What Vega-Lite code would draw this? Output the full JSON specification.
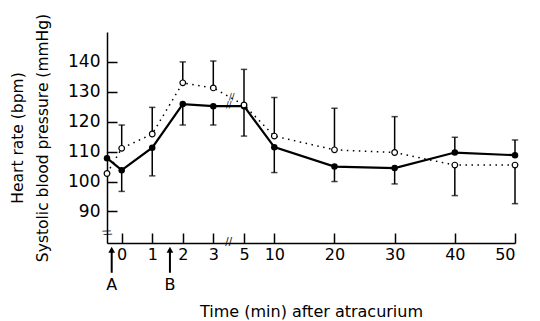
{
  "$schema": "https://vega.github.io/schema/vega-lite/v6.json",
  "width": 408,
  "height": 211,
  "autosize": {"type": "none"},
  "padding": {"left": 107, "top": 32, "right": 25, "bottom": 78},
  "background": "white",
  "config": {
    "view": {"stroke": null},
    "font": "DejaVu Sans",
    "axis": {"grid": false, "domainColor": "black", "tickColor": "black", "labelColor": "black", "titleColor": "black", "domainWidth": 1.5, "tickWidth": 1.5, "titleFontWeight": "normal"}
  },
  "datasets": {
    "measurements": [
      {"series": "HR", "time": -0.5, "value": 107.8, "bound": null},
      {"series": "HR", "time": 0, "value": 103.8, "bound": 96.7},
      {"series": "HR", "time": 1, "value": 111.3, "bound": 101.9},
      {"series": "HR", "time": 2, "value": 125.9, "bound": 118.9},
      {"series": "HR", "time": 3, "value": 125.2, "bound": 118.9},
      {"series": "HR", "time": 5, "value": 125.2, "bound": 115.2},
      {"series": "HR", "time": 10, "value": 111.5, "bound": 103.0},
      {"series": "HR", "time": 20, "value": 105.0, "bound": 100.0},
      {"series": "HR", "time": 30, "value": 104.5, "bound": 99.2},
      {"series": "HR", "time": 40, "value": 109.7, "bound": 114.8},
      {"series": "HR", "time": 50, "value": 108.8, "bound": 113.9},
      {"series": "SBP", "time": -0.5, "value": 102.7, "bound": null},
      {"series": "SBP", "time": 0, "value": 111.1, "bound": 118.9},
      {"series": "SBP", "time": 1, "value": 115.9, "bound": 124.8},
      {"series": "SBP", "time": 2, "value": 133.0, "bound": 140.0},
      {"series": "SBP", "time": 3, "value": 131.3, "bound": 140.3},
      {"series": "SBP", "time": 5, "value": 125.6, "bound": 137.5},
      {"series": "SBP", "time": 10, "value": 115.2, "bound": 128.1},
      {"series": "SBP", "time": 20, "value": 110.6, "bound": 124.5},
      {"series": "SBP", "time": 30, "value": 109.7, "bound": 121.7},
      {"series": "SBP", "time": 40, "value": 105.5, "bound": 95.3},
      {"series": "SBP", "time": 50, "value": 105.5, "bound": 92.6}
    ],
    "events": [
      {"event": "A", "time": -0.34},
      {"event": "B", "time": 1.58}
    ],
    "breaks": [
      {"time": 4, "value": 125.2},
      {"time": 4.2, "value": 127.9}
    ]
  },
  "layer": [
    {
      "data": {"name": "measurements"},
      "transform": [{"filter": "datum.bound != null"}],
      "mark": {"type": "rule", "color": "black", "strokeWidth": 1.5},
      "encoding": {
        "x": {
          "field": "time", "type": "quantitative",
          "scale": {"type": "linear", "domain": [-0.5, 0, 3, 5, 10, 50], "range": [0, 14.7, 106.3, 137, 167.3, 408], "nice": false, "zero": false},
          "axis": {
            "values": [0, 1, 2, 3, 5, 10, 20, 30, 40, 50],
            "tickSize": -10, "labelPadding": 13, "labelFontSize": 16,
            "title": "Time (min) after atracurium", "titleFontSize": 16,
            "titleY": 68, "titleBaseline": "middle"
          }
        },
        "y": {
          "field": "value", "type": "quantitative",
          "scale": {"domain": [79.45, 150], "nice": false, "zero": false},
          "axis": {
            "values": [90, 100, 110, 120, 130, 140],
            "tickSize": -10, "labelPadding": 17, "labelFontSize": 17,
            "title": ["Heart rate (bpm)", "Systolic blood pressure (mmHg)"],
            "titleFontSize": 15.5, "titleLineHeight": 25,
            "titleX": -82, "titleY": 105.5, "titleAngle": -90, "titleBaseline": "bottom", "titleAlign": "center"
          }
        },
        "y2": {"field": "bound"}
      }
    },
    {
      "data": {"name": "measurements"},
      "transform": [{"filter": "datum.bound != null"}],
      "mark": {"type": "point", "shape": "stroke", "color": "black", "strokeWidth": 1.5, "size": 40, "filled": false},
      "encoding": {
        "x": {"field": "time", "type": "quantitative"},
        "y": {"field": "bound", "type": "quantitative"}
      }
    },
    {
      "data": {"name": "measurements"},
      "transform": [{"filter": "datum.series == 'HR'"}],
      "mark": {"type": "line", "color": "black", "strokeWidth": 2.2},
      "encoding": {
        "x": {"field": "time", "type": "quantitative"},
        "y": {"field": "value", "type": "quantitative"}
      }
    },
    {
      "data": {"name": "measurements"},
      "transform": [{"filter": "datum.series == 'SBP'"}],
      "mark": {"type": "line", "color": "black", "strokeWidth": 1.5, "strokeDash": [1.5, 4.5]},
      "encoding": {
        "x": {"field": "time", "type": "quantitative"},
        "y": {"field": "value", "type": "quantitative"}
      }
    },
    {
      "data": {"name": "measurements"},
      "transform": [{"filter": "datum.series == 'HR'"}],
      "mark": {"type": "point", "filled": true, "color": "black", "size": 42, "opacity": 1},
      "encoding": {
        "x": {"field": "time", "type": "quantitative"},
        "y": {"field": "value", "type": "quantitative"}
      }
    },
    {
      "data": {"name": "measurements"},
      "transform": [{"filter": "datum.series == 'SBP'"}],
      "mark": {"type": "point", "filled": false, "fill": "white", "stroke": "black", "strokeWidth": 1.2, "size": 32, "opacity": 1, "fillOpacity": 1},
      "encoding": {
        "x": {"field": "time", "type": "quantitative"},
        "y": {"field": "value", "type": "quantitative"}
      }
    },
    {
      "data": {"name": "breaks"},
      "mark": {"type": "text", "text": "//", "color": "black", "fontSize": 8, "baseline": "middle", "align": "center"},
      "encoding": {
        "x": {"field": "time", "type": "quantitative"},
        "y": {"field": "value", "type": "quantitative"}
      }
    },
    {
      "data": {"name": "events"},
      "mark": {"type": "rule", "color": "black", "strokeWidth": 2, "clip": false},
      "encoding": {
        "x": {"field": "time", "type": "quantitative"},
        "y": {"datum": 76.5, "type": "quantitative"},
        "y2": {"datum": 69.5}
      }
    },
    {
      "data": {"name": "events"},
      "mark": {"type": "point", "shape": "triangle-up", "filled": true, "color": "black", "size": 45, "opacity": 1, "clip": false},
      "encoding": {
        "x": {"field": "time", "type": "quantitative"},
        "y": {"datum": 77.2, "type": "quantitative"}
      }
    },
    {
      "data": {"name": "events"},
      "mark": {"type": "text", "color": "black", "fontSize": 16, "baseline": "middle", "align": "center", "clip": false},
      "encoding": {
        "x": {"field": "time", "type": "quantitative"},
        "y": {"datum": 65.3, "type": "quantitative"},
        "text": {"field": "event"}
      }
    },
    {
      "data": {"values": [{"time": 4}]},
      "mark": {"type": "text", "text": "//", "color": "black", "fontSize": 10, "baseline": "middle", "align": "center", "clip": false},
      "encoding": {
        "x": {"field": "time", "type": "quantitative"},
        "y": {"datum": 79.9, "type": "quantitative"}
      }
    },
    {
      "data": {"values": [{"time": -0.5}]},
      "mark": {"type": "text", "text": "//", "color": "black", "fontSize": 10, "baseline": "middle", "align": "center", "angle": 70, "clip": false},
      "encoding": {
        "x": {"field": "time", "type": "quantitative"},
        "y": {"datum": 82.9, "type": "quantitative"}
      }
    }
  ]
}
